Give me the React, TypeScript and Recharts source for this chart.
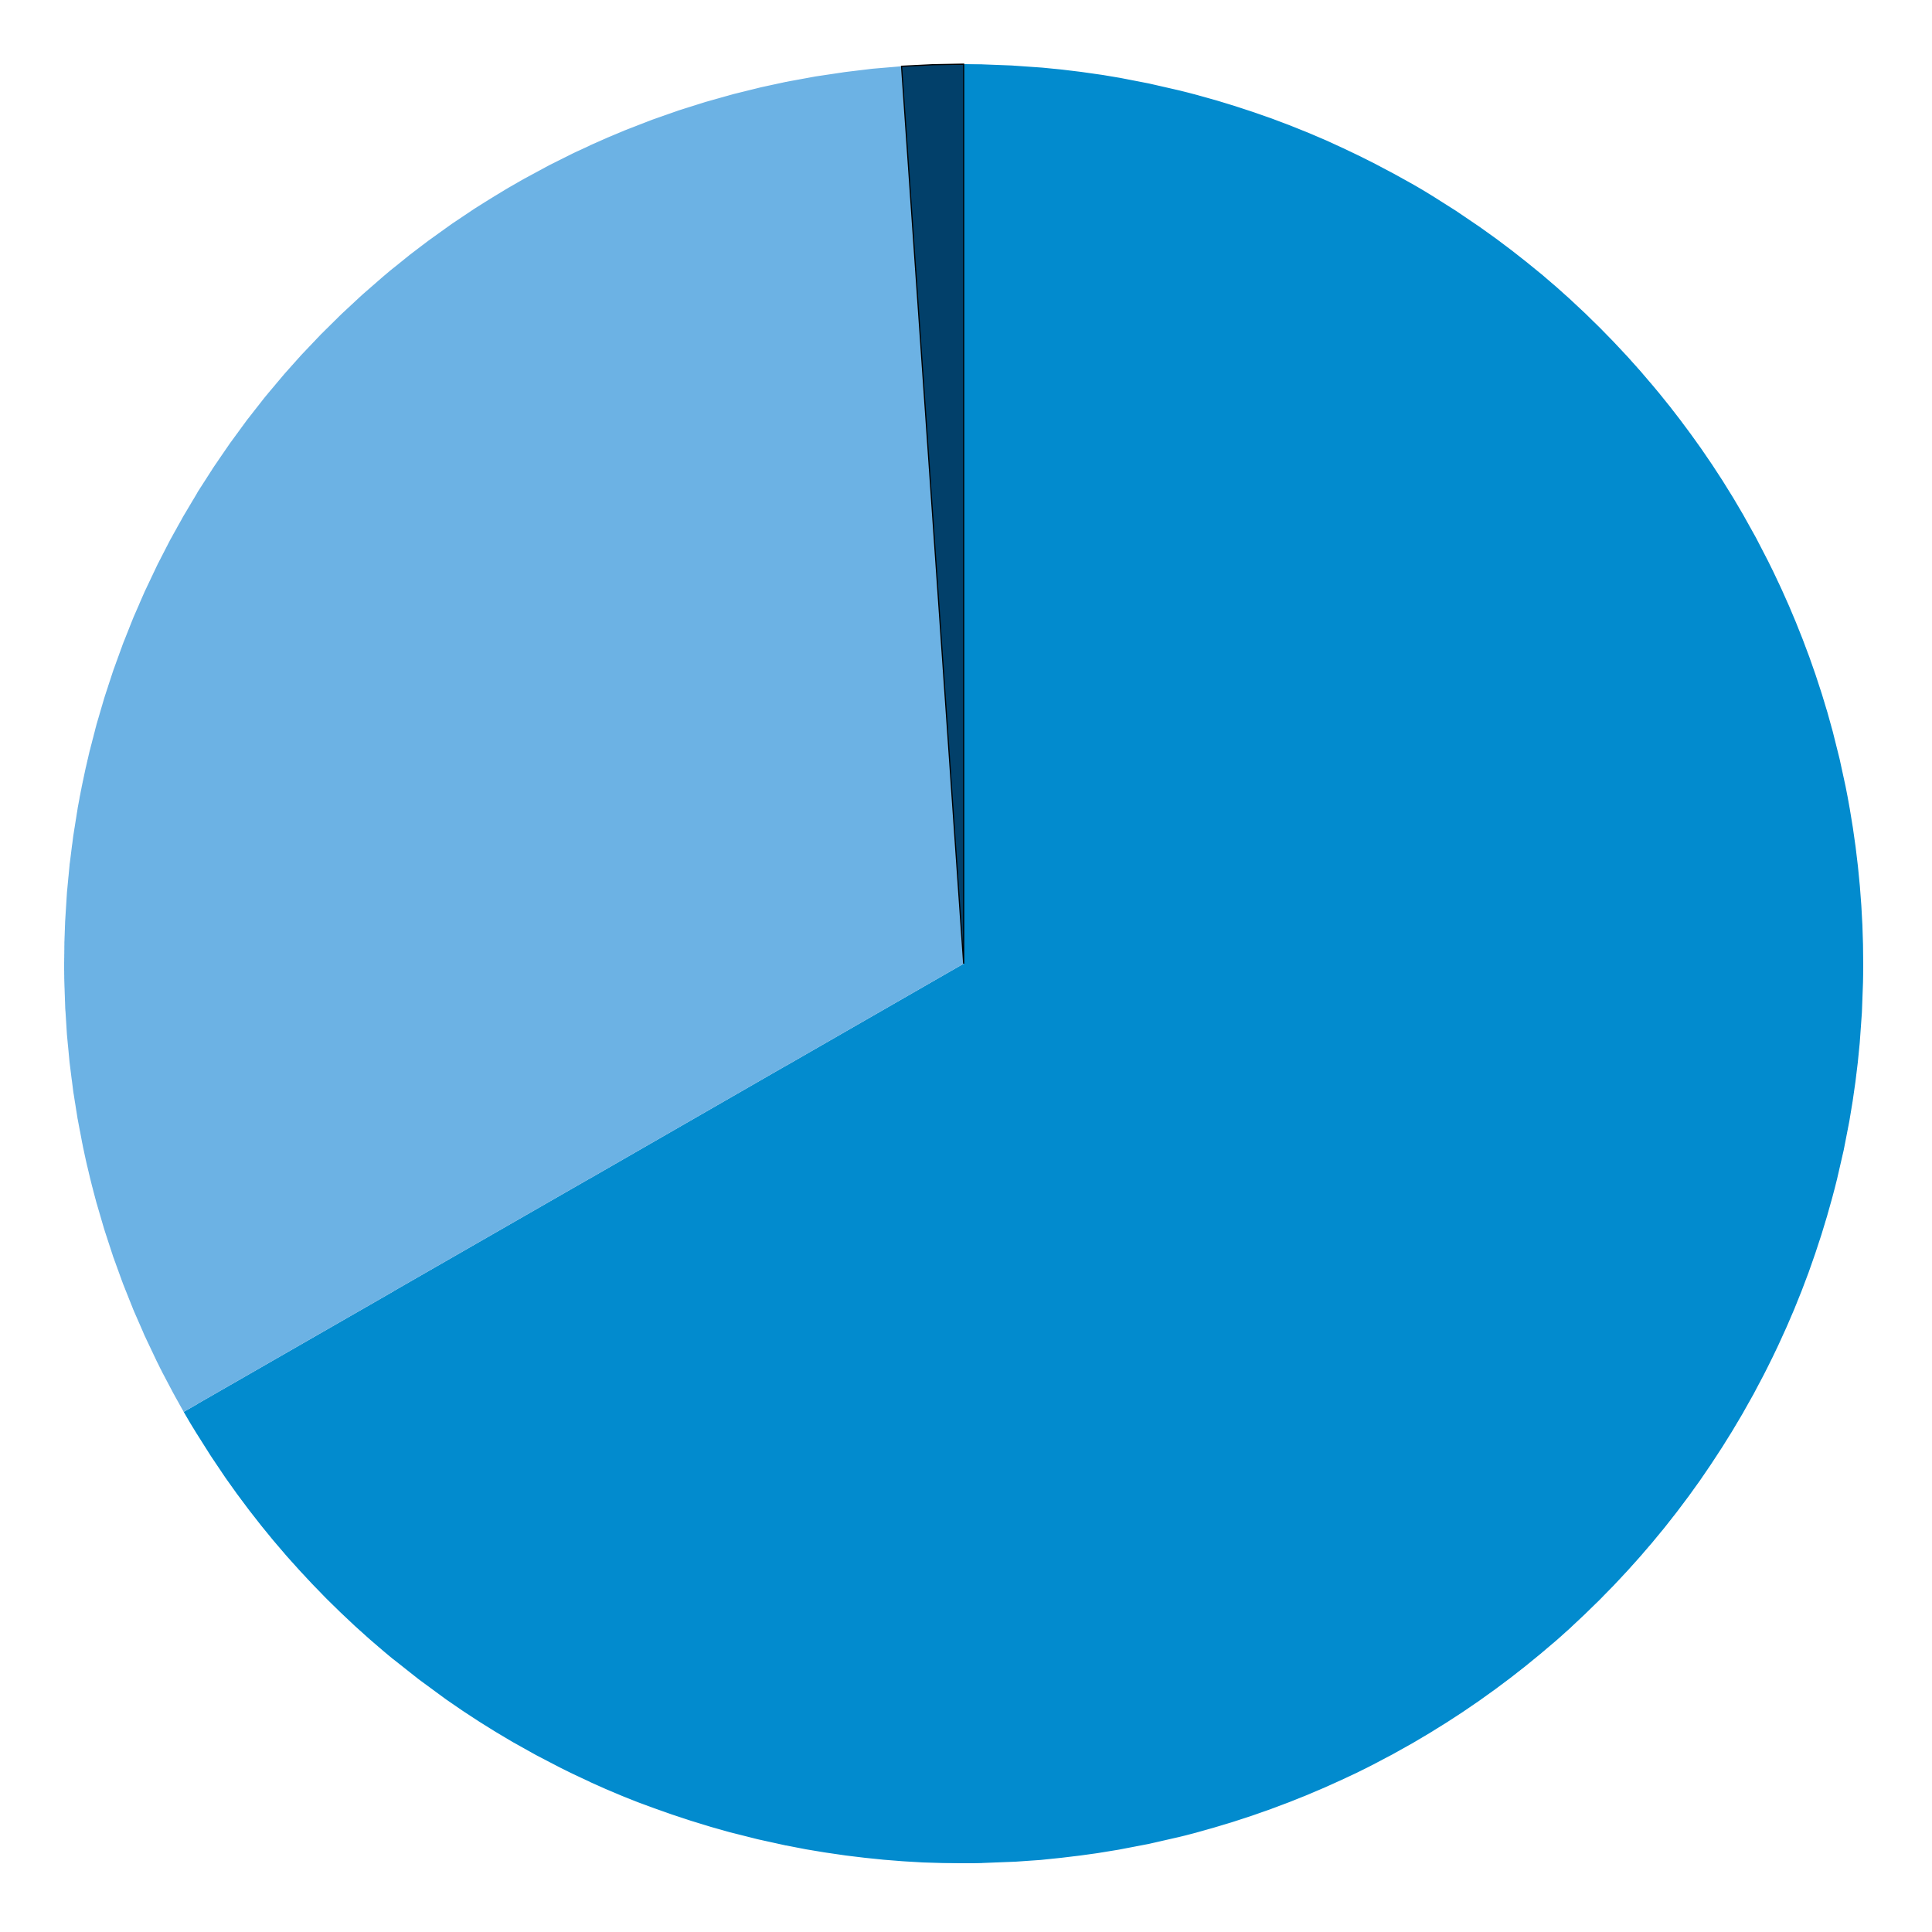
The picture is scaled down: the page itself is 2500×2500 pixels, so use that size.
import React from "react";
import { PieChart, Pie, Cell } from "recharts";

const categories = ["A", "B", "C"];
const values = [66.7, 32.2, 1.1];
const colors = ["#028BCE", "#6CB2E4", "#02406A"];
const strokes = ["none", "none", "#000000"];

const data = categories.map((name, i) => ({ name, value: values[i] }));

export default function App() {
  return (
    <div style={{ position: "absolute", left: 0, top: 0, width: 2500, height: 2500, background: "#fff" }}>
      <PieChart width={2500} height={2500} margin={{ top: 0, right: 0, bottom: 0, left: 0 }}>
        <Pie
          data={data}
          dataKey="value"
          nameKey="name"
          cx={1247}
          cy={1247}
          innerRadius={0}
          outerRadius={1164}
          startAngle={90}
          endAngle={-270}
          isAnimationActive={false}
          label={false}
          labelLine={false}
        >
          {data.map((d, i) => (
            <Cell key={d.name} fill={colors[i]} stroke={strokes[i]} strokeWidth={1.5} />
          ))}
        </Pie>
      </PieChart>
    </div>
  );
}
